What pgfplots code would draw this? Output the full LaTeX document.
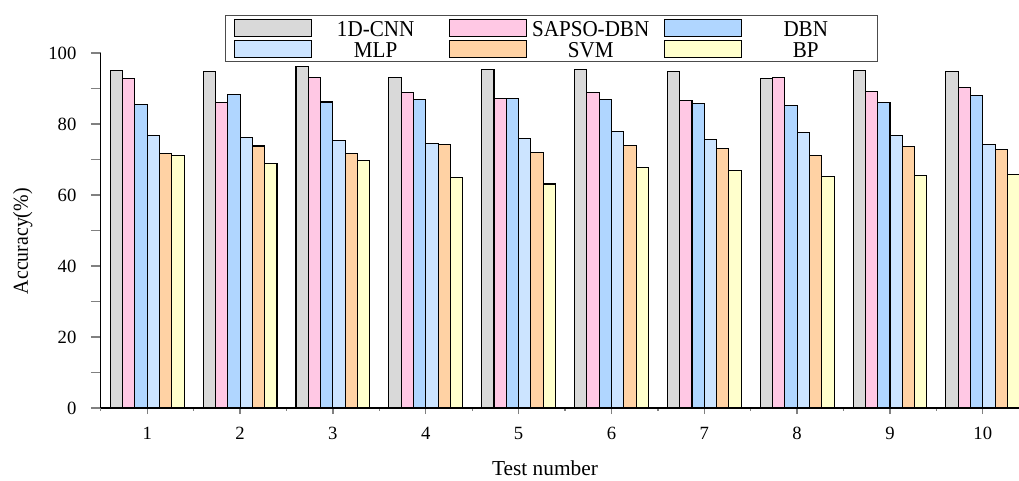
\documentclass[border=0pt]{standalone}
\usepackage{fontspec}
\setmainfont{Liberation Serif}
\newfontfamily\condfont[FakeStretch=0.93]{Liberation Serif}
\usepackage{pgfplots}
\pgfplotsset{compat=1.18}

\definecolor{cCNN}{HTML}{D9D9D9}
\definecolor{cSAPSO}{HTML}{FFC8E4}
\definecolor{cDBN}{HTML}{B0D6FF}
\definecolor{cMLP}{HTML}{CCE4FF}
\definecolor{cSVM}{HTML}{FFD2A4}
\definecolor{cBP}{HTML}{FFFFCC}

\pgfplotstableread{
x  cnn   sapso dbn   mlp   svm   bp
1  95.2  92.8  85.4  76.8  71.7  71.0
2  94.7  86.1  88.4  76.2  73.8  69.0
3  96.3  93.2  86.2  75.4  71.6  69.8
4  93.1  89.0  87.0  74.5  74.2  65.0
5  95.4  87.1  87.3  75.8  72.1  63.1
6  95.3  88.8  86.8  78.0  73.9  67.7
7  94.8  86.5  85.8  75.6  73.1  67.0
8  92.8  93.2  85.3  77.5  71.2  65.3
9  95.0  89.1  86.0  76.7  73.7  65.5
10 94.7  90.4  87.9  74.2  72.9  65.7
}\acc

\pgfplotsset{
  legbox/.style={legend image code/.code={
    \draw[##1, line width=0.8pt] (0pt,-6.375pt) rectangle (57.75pt,6.375pt);}},
}

\begin{document}
\begin{tikzpicture}
\begin{axis}[
    name=ax,
    scale only axis,
    width=688.65pt, height=266.25pt,
    xmin=0.5, xmax=10.39,
    ymin=0, ymax=100,
    axis lines=left,
    axis line style={-, line width=1pt},
    ybar=0pt,
    bar width=0.1325,
    xtick={1,...,10},
    minor xtick={0.5,1.5,...,10.5},
    ytick={0,20,...,100},
    minor ytick={10,30,...,90},
    tick align=outside,
    xtick style={line width=1pt, /pgfplots/major tick length=4.5pt, /pgfplots/minor tick length=2pt},
    ytick style={line width=1pt, /pgfplots/major tick length=7.5pt, /pgfplots/minor tick length=7.5pt},
    /pgf/number format/assume math mode=true,
    tick label style={font=\fontsize{14}{14}\selectfont},
    xticklabel style={yshift=-6.5pt},
    yticklabel style={xshift=-10.5pt},
    every axis x label/.style={at={(axis description cs:0.4838,-0.1915)}, anchor=base},
    every axis y label/.style={at={(axis description cs:-0.085,0.47)}, rotate=90, anchor=center},
    xlabel={\fontsize{16}{16}\selectfont Test number},
    ylabel={\fontsize{16}{16}\condfont Accuracy(\%)},
    legend columns=3,
    legend style={
      at={(axis description cs:0.1353,1.1062)}, anchor=north west,
      draw=black!70, line width=0.8pt, fill=white,
      inner xsep=6pt, inner ysep=2pt,
      font=\fontsize{17}{17}\condfont,
      nodes={inner sep=0pt, text width=96pt, align=center, text height=12.75pt, text depth=0pt},
      /tikz/every even column/.append style={column sep=6.75pt},
      /tikz/row sep=2.85pt,
    },
    clip=true,
]
\addplot[draw=black, line width=0.8pt, fill=cCNN, legbox] table[x=x, y=cnn] {\acc};
\addplot[draw=black, line width=0.8pt, fill=cSAPSO, legbox] table[x=x, y=sapso] {\acc};
\addplot[draw=black, line width=0.8pt, fill=cDBN, legbox] table[x=x, y=dbn] {\acc};
\addplot[draw=black, line width=0.8pt, fill=cMLP, legbox] table[x=x, y=mlp] {\acc};
\addplot[draw=black, line width=0.8pt, fill=cSVM, legbox] table[x=x, y=svm] {\acc};
\addplot[draw=black, line width=0.8pt, fill=cBP, legbox] table[x=x, y=bp] {\acc};
\legend{1D-CNN, SAPSO-DBN, DBN, MLP, SVM, BP}
\end{axis}
\pgfresetboundingbox
\useasboundingbox (ax.south west) ++(-75.6pt,-54pt) rectangle ++(764.25pt,360pt);
\end{tikzpicture}
\end{document}
